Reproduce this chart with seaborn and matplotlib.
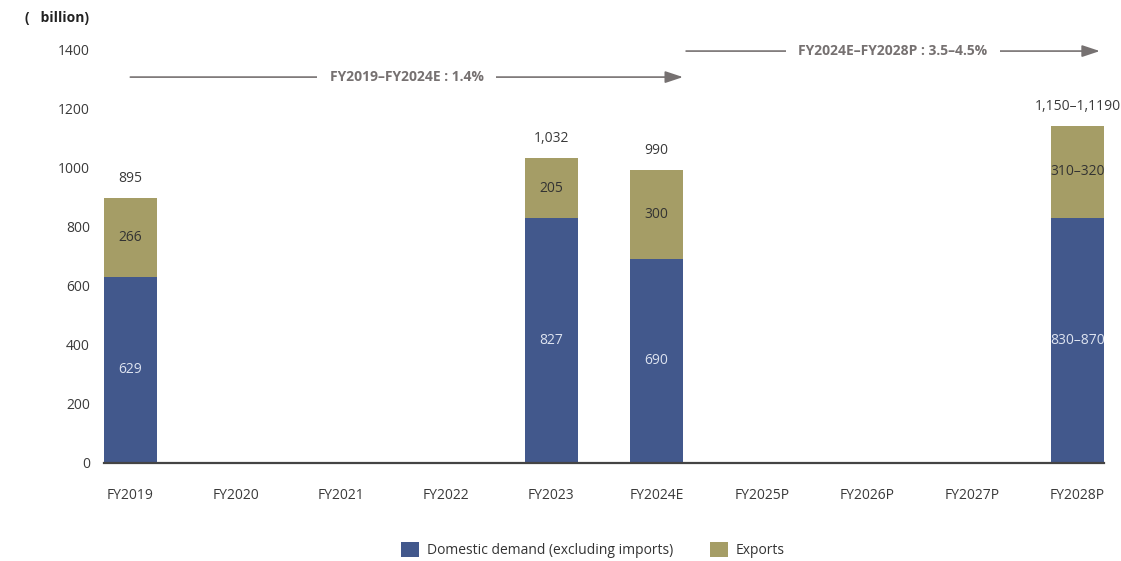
import matplotlib
matplotlib.use("Agg")
import matplotlib.pyplot as plt
import numpy as np
import pandas as pd
import seaborn as sns

# Data (billion)
years = ["FY2019", "FY2020", "FY2021", "FY2022", "FY2023",
         "FY2024E", "FY2025P", "FY2026P", "FY2027P", "FY2028P"]
domestic = [629, np.nan, np.nan, np.nan, 827, 690, np.nan, np.nan, np.nan, 830]
exports = [266, np.nan, np.nan, np.nan, 205, 300, np.nan, np.nan, np.nan, 310]
domestic_labels = ["629", "", "", "", "827", "690", "", "", "", "830–870"]
export_labels = ["266", "", "", "", "205", "300", "", "", "", "310–320"]
total_labels = ["895", "", "", "", "1,032", "990", "", "", "", "1,150–1,1190"]
yticks = [0, 200, 400, 600, 800, 1000, 1200, 1400]
cagr_texts = ["FY2019–FY2024E : 1.4%", "FY2024E–FY2028P : 3.5–4.5%"]

DOM_COLOR = "#42588c"
EXP_COLOR = "#a59d66"
ARROW_COLOR = "#767171"

sns.set_theme(style="white")
plt.rcParams["font.family"] = ["Open Sans", "DejaVu Sans"]

df = pd.DataFrame({"year": years, "domestic": domestic, "exports": exports})
df["total"] = df["domestic"] + df["exports"]

fig = plt.figure(figsize=(11.21, 5.61), dpi=100)
ax = fig.add_axes([104 / 1121, 98 / 561, 1000 / 1121, 414 / 561])

sns.barplot(data=df, x="year", y="total", order=years, color=EXP_COLOR,
            width=0.5, saturation=1, linewidth=0, ax=ax, label="Exports")
sns.barplot(data=df, x="year", y="domestic", order=years, color=DOM_COLOR,
            width=0.5, saturation=1, linewidth=0, ax=ax,
            label="Domestic demand (excluding imports)")
handles, labels = ax.get_legend_handles_labels()
if ax.get_legend() is not None:
    ax.get_legend().remove()

ax.set_xlim(-0.25, 9.25)
ax.set_ylim(0, 1400)
ax.set_yticks(yticks)
ax.set_xlabel("")
ax.set_ylabel("")
for side in ["top", "right", "left"]:
    ax.spines[side].set_visible(False)
ax.spines["bottom"].set_color("#444444")
ax.spines["bottom"].set_linewidth(1.6)
ax.tick_params(axis="both", length=0, labelsize=10, colors="#3a3a3a")
ax.tick_params(axis="y", pad=10)
ax.tick_params(axis="x", pad=18)

# Value labels
for i, row in df.iterrows():
    if np.isnan(row["domestic"]):
        continue
    ax.text(i, row["domestic"] / 2, domestic_labels[i], ha="center", va="center",
            fontsize=10, color="#dde3f0")
    ax.text(i, row["domestic"] + row["exports"] / 2, export_labels[i],
            ha="center", va="center", fontsize=10, color="#333333")
    ax.annotate(total_labels[i], (i, row["total"]), xytext=(0, 14),
                textcoords="offset points", ha="center", va="center",
                fontsize=10, color="#3a3a3a")

# Growth-rate arrows
spans = [(0.0, 5.25, 1305), (5.28, 9.21, 1393)]
for (x0, x1, yv), txt in zip(spans, cagr_texts):
    ax.annotate("", xy=(x1, yv), xytext=(x0, yv),
                arrowprops=dict(arrowstyle="-|>,head_length=0.9,head_width=0.3",
                                color=ARROW_COLOR, lw=1.2, shrinkA=0, shrinkB=0),
                annotation_clip=False)
    ax.text((x0 + x1) / 2, yv, txt, ha="center", va="center", fontsize=10,
            fontweight="bold", color=ARROW_COLOR, clip_on=False,
            bbox=dict(boxstyle="square,pad=0.9", fc="white", ec="none"))

fig.text(25 / 1121, 1 - 18 / 561, "(   billion)", ha="left", va="center",
         fontsize=10, fontweight="bold", color="#222222")

order = [labels.index("Domestic demand (excluding imports)"), labels.index("Exports")]
fig.legend([handles[k] for k in order], [labels[k] for k in order],
           loc="center", bbox_to_anchor=(593 / 1121, 1 - 550 / 561), ncol=2,
           frameon=False, fontsize=10, handlelength=1.3, handleheight=1.3,
           columnspacing=2.6, handletextpad=0.6, labelcolor="#333333")

fig.savefig("out.png", dpi=100)
